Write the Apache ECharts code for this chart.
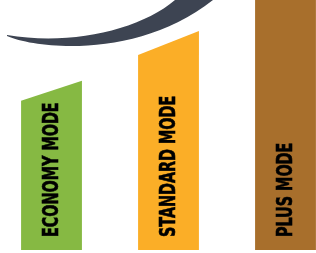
<!DOCTYPE html>
<html>
<head>
<meta charset="utf-8">
<script src="https://cdn.jsdelivr.net/npm/echarts@6/dist/echarts.min.js"></script>
<style>
  html, body { margin: 0; padding: 0; background: #fff; }
  #chart { width: 316px; height: 253px; }
</style>
</head>
<body>
<div id="chart"></div>
<script>
const categories = ['ECONOMY MODE', 'STANDARD MODE', 'PLUS MODE'];
const positions = [0, 1, 2];
const leftHeights = [59.7, 78, 108];
const rightHeights = [67.7, 87.6, 118];
const barColors = ['#86b943', '#fbae27', '#a86f2c'];

const myChart = echarts.init(document.getElementById('chart'));

const data = positions.map((p, i) => [p, leftHeights[i], rightHeights[i]]);

function renderBar(params, api) {
  const i = params.dataIndex;
  const p = api.value(0);
  const base = api.coord([p, 0]);
  const topL = api.coord([p, api.value(1)]);
  const topR = api.coord([p, api.value(2)]);
  const w = api.size([0.52, 0])[0];
  const x0 = base[0] - w / 2, x1 = base[0] + w / 2;
  return {
    type: 'group',
    children: [{
      type: 'polygon',
      shape: { points: [[x0, base[1]], [x0, topL[1]], [x1, topR[1]], [x1, base[1]]] },
      style: { fill: barColors[i] }
    }, {
      type: 'text',
      x: base[0] + 1,
      y: base[1] - 13,
      rotation: Math.PI / 2,
      scaleX: 0.76,
      style: {
        text: categories[i],
        fill: '#000',
        stroke: '#000',
        lineWidth: 0.6,
        font: 'bold 21px "Liberation Sans Narrow", "DejaVu Sans Condensed", sans-serif',
        textAlign: 'left',
        textVerticalAlign: 'middle'
      }
    }]
  };
}

// decorative swoosh above the bars
function renderSwoosh() {
  return {
    type: 'path',
    shape: {
      pathData: 'M7,36 C40,50 140,58 213,0 L175,0 C140,30 70,46 7,35 Z'
    },
    style: { fill: '#3d4452' }
  };
}

myChart.setOption({
  animation: false,
  grid: { left: 0, right: 0, top: 0, bottom: 3 },
  xAxis: { type: 'value', min: -0.4402, max: 2.2607, show: false },
  yAxis: { type: 'value', min: 0, max: 100, show: false },
  series: [{
    type: 'custom',
    renderItem: renderBar,
    data: data,
    clip: true
  }, {
    type: 'custom',
    renderItem: renderSwoosh,
    data: [[0, 0]],
    silent: true
  }]
});
</script>
</body>
</html>
